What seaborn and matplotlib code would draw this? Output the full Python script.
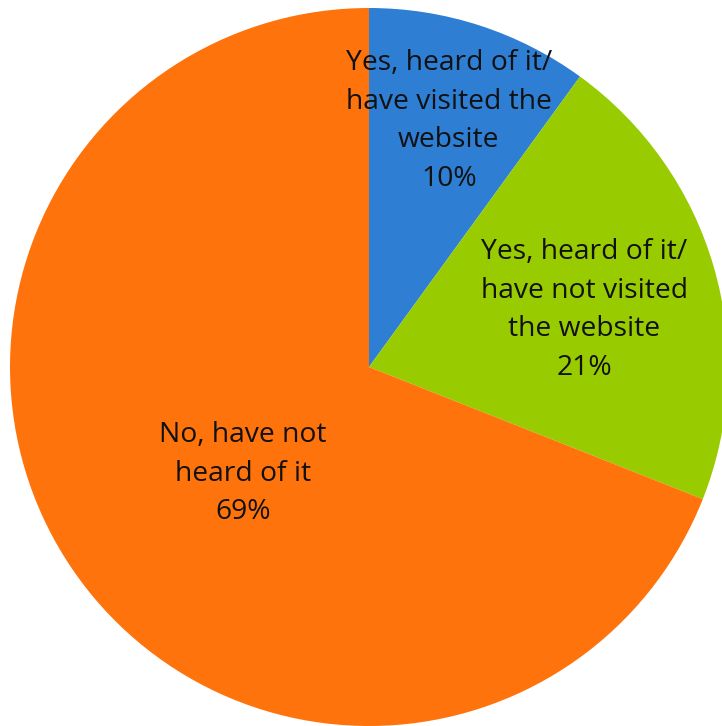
import numpy as np
import matplotlib
matplotlib.use("Agg")
import matplotlib.pyplot as plt
import seaborn as sns

categories = [
    "Yes, heard of it/\nhave visited the\nwebsite",
    "Yes, heard of it/\nhave not visited\nthe website",
    "No, have not\nheard of it",
]
shares = [10, 21, 69]
colors = ["#2E7ED4", "#99CC00", "#FF730C"]
# label placement: distance from the centre (fraction of radius) and a small
# angular nudge (degrees) from each wedge's mid angle
label_dist = [0.72, 0.62, 0.46]
label_nudge = [0.0, -1.3, 6.0]

sns.set_theme(style="white")
plt.rcParams["font.family"] = ["Open Sans", "DejaVu Sans"]

fig = plt.figure(figsize=(7.22, 7.26), dpi=100)
ax = fig.add_axes([10 / 722, 0.0, 718 / 722, 718 / 726])

wedges, _ = ax.pie(
    shares,
    colors=colors,
    startangle=90,
    counterclock=False,
    radius=1.0,
    wedgeprops=dict(linewidth=0, antialiased=True),
)

for w, name, val, d, nudge in zip(wedges, categories, shares, label_dist, label_nudge):
    mid = np.deg2rad((w.theta1 + w.theta2) / 2 + nudge)
    ax.text(
        d * np.cos(mid), d * np.sin(mid),
        f"{name}\n{val}%",
        ha="center", va="center", fontsize=20.3, color="#111111",
        linespacing=1.5,
    )

ax.set_xlim(-1, 1)
ax.set_ylim(-1, 1)
ax.set_aspect("equal")
ax.axis("off")

fig.savefig("out.png", dpi=100, facecolor="white")
